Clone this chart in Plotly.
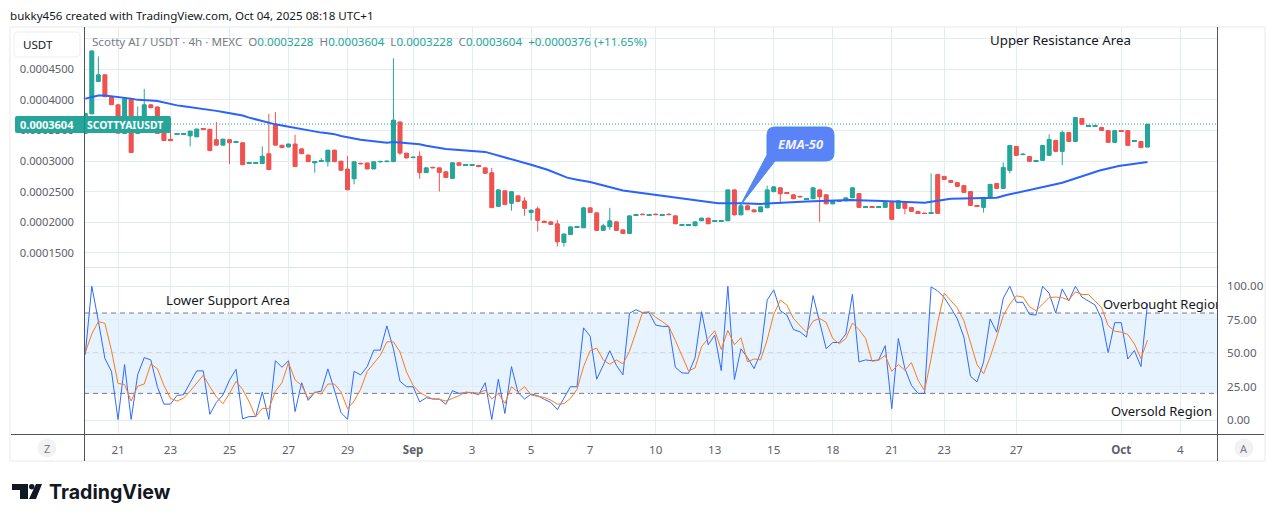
import plotly.graph_objects as go

# Candles for bars -1 .. 161, prices in units of 0.0001 USDT
bar_open = [
 3.45,3.77,4.30,4.41,4.05,3.92,3.45,4.02,3.45,3.73,3.92,3.885,3.60,3.35,3.435,3.435,3.41,3.395,3.525,3.52,
 3.35,3.26,3.35,3.305,3.30,2.965,2.965,2.96,3.12,3.60,3.26,3.23,3.28,3.20,3.10,2.97,2.995,2.99,3.18,3.00,
 2.87,2.71,2.965,2.97,2.87,2.985,2.99,2.99,3.64,3.13,3.055,3.08,2.81,2.90,2.89,2.826,2.717,2.973,2.93,2.93,
 2.92,2.89,2.81,2.26,2.515,2.31,2.433,2.35,2.16,2.22,2.02,2.008,1.975,1.67,1.80,1.92,1.91,2.237,2.155,1.867,
 1.926,2.008,1.877,1.817,2.115,2.135,2.112,2.135,2.112,2.135,2.106,1.949,1.949,1.943,2.024,2.07,2.015,2.015,2.024,2.53,
 2.12,2.27,2.204,2.17,2.237,2.50,2.564,2.482,2.45,2.425,2.375,2.384,2.53,2.45,2.30,2.345,2.35,2.40,2.47,2.249,
 2.259,2.249,2.243,2.325,2.227,2.325,2.243,2.178,2.151,2.145,2.782,2.75,2.684,2.65,2.60,2.504,2.276,2.243,2.406,2.635,
 2.553,2.847,3.24,3.105,3.076,2.995,3.01,3.093,3.338,3.158,3.468,3.32,3.697,3.572,3.572,3.55,3.50,3.305,3.50,3.50,
 3.325,3.32,3.228,
]
bar_close = [
 3.78,4.80,4.41,4.05,3.92,3.455,4.02,3.14,3.62,3.92,3.87,3.45,3.335,3.335,3.445,3.445,3.49,3.525,3.515,3.17,
 3.26,3.36,3.30,3.315,2.94,2.975,2.975,3.08,2.86,3.26,3.22,3.28,2.91,3.12,2.99,2.99,3.005,3.18,2.99,2.85,
 2.53,2.99,2.955,2.87,2.99,2.995,3.00,3.67,3.13,3.05,3.065,2.81,2.89,2.89,2.815,2.733,2.973,2.93,2.94,2.94,
 2.91,2.80,2.24,2.53,2.29,2.50,2.34,2.226,2.20,2.03,2.00,1.965,1.68,1.81,1.926,1.932,2.237,2.16,1.867,1.943,
 2.024,1.867,1.817,2.106,2.125,2.125,2.122,2.125,2.122,2.125,1.975,1.959,1.959,2.008,2.07,1.975,2.025,2.025,2.53,2.12,
 2.27,2.204,2.17,2.253,2.53,2.58,2.466,2.472,2.384,2.415,2.385,2.564,2.417,2.30,2.35,2.355,2.40,2.564,2.243,2.259,
 2.249,2.259,2.325,2.047,2.352,2.227,2.178,2.151,2.145,2.155,2.145,2.70,2.65,2.586,2.488,2.276,2.26,2.406,2.62,2.553,
 2.897,3.256,3.093,3.115,2.995,3.005,3.256,3.354,3.158,3.468,3.32,3.713,3.60,3.582,3.582,3.50,3.305,3.50,3.49,3.256,
 3.335,3.22,3.604,
]
# Wick extremes that reach beyond the body, keyed by bar number
wick_high = {
 1:4.71,7:3.89,8:4.18,12:3.66,19:3.64,26:3.24,27:3.77,28:3.80,31:3.43,35:3.05,39:3.08,46:4.68,50:3.16,
 61:2.89,66:2.41,68:2.26,71:2.04,75:2.253,78:1.975,79:2.237,103:2.597,128:2.80,139:2.978,146:3.436,148:3.50,
}
wick_low = {
 15:3.24,21:2.95,34:2.81,36:2.91,40:2.62,47:3.10,50:2.71,53:2.504,64:2.19,66:2.106,67:2.03,68:1.85,
 71:1.605,72:1.605,79:1.877,105:2.30,111:2.008,124:2.13,136:2.16,140:2.80,148:2.93,
}
last_price = 3.604

# 50-period EMA knots: bar number and value
ema_bar = [
 -1,0,1,2,3,4,5,6,7,8,9,10,11,12,13,14,15,16,17,18,19,20,21,22,23,24,25,26,27,28,29,30,31,32,33,34,35,36,37,38,39,40,
 41,42,43,44,45,46,47,48,49,50,51,54,60,63,67,69.5,72.5,74,76,81,86,91,95.5,99,102,109,115.6,120.6,127,131,135,138,139.5,144,148,153.7,156.6,161,
]
ema_value = [
 4.02,4.04,4.07,4.07,4.06,4.05,4.04,4.02,4.00,4.00,3.99,3.98,3.955,3.93,3.91,3.895,3.88,3.87,3.86,3.835,3.82,3.80,3.78,3.765,3.745,3.71,3.68,3.65,3.62,3.60,3.58,3.56,3.535,3.52,3.50,3.48,3.465,3.455,3.44,3.41,3.385,3.37,
 3.35,3.34,3.325,3.31,3.30,3.31,3.30,3.29,3.285,3.275,3.25,3.196,3.15,3.065,2.94,2.858,2.73,2.695,2.657,2.52,2.45,2.373,2.31,2.31,2.30,2.34,2.363,2.346,2.32,2.385,2.39,2.40,2.445,2.548,2.646,2.847,2.92,2.984,
]

# Stochastic RSI for bars -1 .. 161
stoch_k = [
 49,100,74,46,36.5,0.5,41.5,0.5,34,46.7,45,25,12,12,18.5,19,28,36.8,36.8,4.4,
 13.3,18.8,30,38,1,2.7,2.7,21,0.5,44.4,39.5,44.4,6.4,28,14.8,20.7,21.7,38.3,22.5,5.7,
 0.7,36.5,33.8,40,52.3,52.3,70.4,53.3,29,25,25,13.6,16.8,15.8,15.8,11.9,22,20,20.5,20.5,
 19,28,0.5,30.6,5,40,20.7,15.8,19.5,18.3,15.6,13.3,7.9,16.8,25,25,68.9,62.7,30.6,41,
 51.9,41,33.8,79.8,82.5,80.2,80.2,71,70,70,39.5,35.3,35,46.7,81,56.3,63.5,37,100,30.4,
 53.3,46.7,38.5,50.4,89.6,97.3,81.7,78.5,67.7,66,62,93,73,53.3,58,58,64.4,94,43.5,45,
 44.4,45,55.6,8.6,61,38.5,26,20,20,99.5,96.5,91.6,84,75.6,62,32.8,28.6,43.5,75.6,65.7,
 91,100,88,88,79,78.5,100,94.8,80,98,89,100,91.9,89,86,75.6,50.4,72.8,72.8,45.7,
 52,40,87,
]
stoch_d = [
 50.4,64.4,73.6,72.3,52,27.4,26.7,14.3,25.4,27,42,38.5,26,16.3,14.3,16.5,21.7,28,33.6,25,
 17.5,12.3,20,29,23,13.8,2.5,8.9,8.4,21.7,28,43,30,26,16.3,21,19.5,27,27,21.2,
 8.6,14.3,23.2,36.5,42.2,48.4,58.5,58.5,51,36,26,20.7,18,15.8,15.6,14.3,16.3,18.3,21,20.7,
 20.2,22.5,15.8,20,12.6,25,21,25,18.8,17.8,17,15,12,12.3,16.3,23,40,51.9,53.8,45,
 41.7,45,42,51.4,65.7,80.5,81,76.8,73.6,70,59.5,48,36.8,39,55,61,66.7,52.8,67,56.3,
 61.5,43.5,45.7,45,60,79,89.6,86,76,70.6,65.7,74,76,73,61,57,61,72.6,67.7,61.2,
 44,44.7,48.4,36.5,41.5,37.3,43,30,22,46,73,94.8,89.6,83.7,74.3,57,41.5,34.6,47,62,
 78,86.7,92.8,92,84.7,81.7,87,91.6,91.9,91.4,89.6,95.8,93.8,93.8,89,84,70.6,66.4,65.7,64,
 57,46,59.8,
]

# Axis ticks
date_ticks = [4,12,21,30,39,49,58,67,76,86,95,104,113,122,130,141,157,166]
date_labels = ["21","23","25","27","29","<b>Sep</b>","3","5","7","10","13","15","18","21","23","27","<b>Oct</b>","4"]
price_ticks = [1.5,2.0,2.5,3.0,3.5,4.0,4.5,5.0]
price_labels = ["0.0001500","0.0002000","0.0002500","0.0003000","0.0003500","0.0004000","0.0004500",""]
stoch_ticks = [0,25,50,75,100]
stoch_labels = ["0.00","25.00","50.00","75.00","100.00"]

TEAL = "#26a69a"
RED = "#ef5350"
GRID = "#e3ecf3"
AXIS = "#50535e"
LABEL = "#5d606b"
FONT = "Noto Sans"
W, H = 1281, 522

SCALE = 1e-4
bars = list(range(-1, 162))
opens = [v * SCALE for v in bar_open]
closes = [v * SCALE for v in bar_close]
highs = [max(wick_high.get(b, 0), o, c) * SCALE for b, o, c in zip(bars, bar_open, bar_close)]
lows = [min(wick_low.get(b, 99), o, c) * SCALE for b, o, c in zip(bars, bar_open, bar_close)]
body_base = [min(o, c) for o, c in zip(opens, closes)]
body_size = [abs(c - o) for o, c in zip(opens, closes)]
body_color = [TEAL if c >= o else RED for o, c in zip(opens, closes)]


def fx(px):
    return px / W


def fy(py):
    return 1 - py / H


def rect(x0, y0, x1, y1, fill, line=None, layer="below"):
    return dict(type="rect", xref="paper", yref="paper", x0=fx(x0), x1=fx(x1), y0=fy(y0), y1=fy(y1),
                fillcolor=fill, line=dict(color=line or fill, width=1 if line else 0), layer=layer)


def seg(x0, y0, x1, y1, color, width=1, layer="above"):
    return dict(type="line", xref="paper", yref="paper", x0=fx(x0), x1=fx(x1), y0=fy(y0), y1=fy(y1),
                line=dict(color=color, width=width), layer=layer)


def path(points, fill, line=None, layer="above"):
    return dict(type="path", xref="paper", yref="paper", path=points, fillcolor=fill,
                line=dict(color=line or fill, width=1 if line else 0), layer=layer)


def p(px, py):
    return f"{fx(px):.5f},{fy(py):.5f}"


def text(px, py, s, size=12, color="#131722", anchor="left", family=FONT):
    # Annotations carry about 2px of padding on the anchored side
    shift = 2 if anchor == "left" else 0
    return dict(xref="paper", yref="paper", x=fx(px - shift), y=fy(py), text=s, showarrow=False,
                xanchor=anchor, yanchor="middle", font=dict(family=family, size=size, color=color))


fig = go.Figure()
# Candle bodies are drawn as bars so they can span most of the bar spacing
fig.add_trace(go.Bar(
    x=bars, y=body_size, base=body_base, width=0.76, xaxis="x", yaxis="y",
    marker=dict(color=body_color, line=dict(width=0)), hoverinfo="skip", showlegend=False,
))
fig.add_trace(go.Candlestick(
    x=bars, open=opens, high=highs, low=lows, close=closes, xaxis="x", yaxis="y",
    increasing=dict(line=dict(color=TEAL, width=1), fillcolor=TEAL),
    decreasing=dict(line=dict(color=RED, width=1), fillcolor=RED),
    whiskerwidth=0, hoverinfo="skip", showlegend=False,
))
fig.add_trace(go.Scatter(
    x=ema_bar, y=[v * SCALE for v in ema_value], mode="lines", xaxis="x", yaxis="y",
    line=dict(color="#2962ff", width=2), hoverinfo="skip", showlegend=False,
))
fig.add_trace(go.Scatter(
    x=bars, y=stoch_k, mode="lines", xaxis="x2", yaxis="y2",
    line=dict(color="#2f6bff", width=1), hoverinfo="skip", showlegend=False,
))
fig.add_trace(go.Scatter(
    x=bars, y=stoch_d, mode="lines", xaxis="x2", yaxis="y2",
    line=dict(color="#ff7a1a", width=1), hoverinfo="skip", showlegend=False,
))
# Text that stops at the right-hand scale
fig.add_trace(go.Scatter(
    x=[154.2], y=[85.2], mode="text", text=["Overbought Region"], textposition="middle right",
    textfont=dict(family=FONT, size=13, color="#131722"), xaxis="x2", yaxis="y2",
    cliponaxis=True, hoverinfo="skip", showlegend=False,
))

shapes = [
    rect(9, 26, 1266, 462, "#f4f4f4"),
    rect(11, 28, 1264, 460, "#ffffff"),
    dict(type="rect", xref="x2 domain", yref="y2", x0=0, x1=1, y0=20, y1=80,
         fillcolor="rgba(33,150,243,0.11)", line=dict(width=0), layer="below"),
    dict(type="line", xref="x2 domain", yref="y2", x0=0, x1=1, y0=80, y1=80,
         line=dict(color="#787b86", width=1, dash="5px,4px"), layer="below"),
    dict(type="line", xref="x2 domain", yref="y2", x0=0, x1=1, y0=50, y1=50,
         line=dict(color="rgba(120,123,134,0.65)", width=1, dash="5px,4px"), layer="below"),
    dict(type="line", xref="x2 domain", yref="y2", x0=0, x1=1, y0=20, y1=20,
         line=dict(color="#787b86", width=1, dash="5px,4px"), layer="below"),
    dict(type="line", xref="x domain", yref="y", x0=0, x1=1, y0=last_price * SCALE, y1=last_price * SCALE,
         line=dict(color=TEAL, width=1, dash="1px,2px"), layer="below"),
    seg(84, 267.5, 1217, 267.5, "#e0e3eb"),
    seg(11, 434.5, 1264, 434.5, AXIS),
    seg(84.5, 27, 84.5, 461, AXIS),
    seg(1217.5, 27, 1217.5, 461, AXIS),
    # Scale mode box
    dict(type="path", xref="paper", yref="paper",
         path=f"M {p(18,32)} L {p(76,32)} Q {p(80,32)} {p(80,36)} L {p(80,53)} Q {p(80,57)} {p(76,57)} "
              f"L {p(18,57)} Q {p(14,57)} {p(14,53)} L {p(14,36)} Q {p(14,32)} {p(18,32)} Z",
         fillcolor="#ffffff", line=dict(color="#ecedf0", width=1), layer="above"),
    # Last-price tag
    path(f"M {p(17,116)} L {p(169,116)} Q {p(171,116)} {p(171,118)} L {p(171,131)} Q {p(171,133)} {p(169,133)} "
         f"L {p(17,133)} Q {p(15,133)} {p(15,131)} L {p(15,118)} Q {p(15,116)} {p(17,116)} Z", TEAL),
    seg(84.5, 116, 84.5, 133, "#1d8a80"),
    # EMA-50 callout
    path(f"M {p(775,127)} L {p(826,127)} Q {p(834,127)} {p(834,135)} L {p(834,153)} Q {p(834,161)} {p(826,161)} "
         f"L {p(775,161)} L {p(740,206)} L {p(767,155)} L {p(767,135)} Q {p(767,127)} {p(775,127)} Z",
         "#5a83f7", "#4390dc"),
    # Scale buttons
    dict(type="circle", xref="paper", yref="paper", x0=fx(37.5), x1=fx(56.5), y0=fy(438.5), y1=fy(457.5),
         fillcolor="#f2f2f2", line=dict(width=0), layer="above"),
    dict(type="circle", xref="paper", yref="paper", x0=fx(1234.5), x1=fx(1253.5), y0=fy(438.5), y1=fy(457.5),
         fillcolor="#f2f2f2", line=dict(width=0), layer="above"),
    # Brand mark
    path(f"M {p(12,484)} L {p(28,484)} L {p(28,499)} L {p(20,499)} L {p(20,490)} L {p(12,490)} Z", "#131722", layer="below"),
    dict(type="circle", xref="paper", yref="paper", x0=fx(29), x1=fx(34.5), y0=fy(484), y1=fy(489.5),
         fillcolor="#131722", line=dict(width=0), layer="below"),
    path(f"M {p(36,484)} L {p(42,484)} L {p(36,499)} L {p(29,499)} Z", "#131722", layer="below"),
]

legend_text = ("<span style='color:#787b86'>Scotty AI / USDT · 4h · MEXC  O</span><span style='color:#26a69a'>0.0003228</span>"
               "<span style='color:#787b86'>  H</span><span style='color:#26a69a'>0.0003604</span>"
               "<span style='color:#787b86'>  L</span><span style='color:#26a69a'>0.0003228</span>"
               "<span style='color:#787b86'>  C</span><span style='color:#26a69a'>0.0003604  +0.0000376 (+11.65%)</span>")

annotations = [
    text(10, 15, "bukky456 created with TradingView.com, Oct 04, 2025 08:18 UTC+1", size=11.6),
    text(92, 41, legend_text, size=11.6),
    text(23, 44.5, "USDT", size=11.6),
    text(20, 124.5, "<b>0.0003604</b>", size=11, color="#ffffff"),
    text(87, 124.5, "<b>SCOTTYAIUSDT</b>", size=10.4, color="#ffffff"),
    text(990, 40.5, "Upper Resistance Area", size=13.3),
    text(166, 299.5, "Lower Support Area", size=13.3),
    text(1111, 411, "Oversold Region", size=13),
    text(800.5, 143.5, "<b><i>EMA-50</i></b>", size=13, color="#eef3ff", anchor="center"),
    text(47, 448.5, "Z", size=11, color="#787b86", anchor="center"),
    text(1244, 448.5, "A", size=11, color="#787b86", anchor="center"),
    text(49, 492, "<b>TradingView</b>", size=19.6, family="Inter"),
]

x_range = [-1.19, 171.6]
fig.update_layout(
    width=W, height=H, margin=dict(l=0, r=0, t=0, b=0), autosize=False,
    paper_bgcolor="#ffffff", plot_bgcolor="rgba(0,0,0,0)", showlegend=False,
    shapes=shapes, annotations=annotations, hovermode=False, barmode="overlay",
    xaxis=dict(domain=[fx(84), fx(1217)], range=x_range, type="linear", anchor="y",
               tickmode="array", tickvals=date_ticks, ticktext=[""] * len(date_ticks),
               showgrid=True, gridcolor=GRID, gridwidth=1, zeroline=False, showline=False,
               ticks="", rangeslider=dict(visible=False)),
    xaxis2=dict(domain=[fx(84), fx(1217)], range=x_range, type="linear", anchor="y2",
                tickmode="array", tickvals=date_ticks, ticktext=date_labels,
                tickfont=dict(family=FONT, size=11.6, color=LABEL), ticklabelstandoff=7,
                showgrid=True, gridcolor=GRID, gridwidth=1, zeroline=False, showline=False, ticks=""),
    yaxis=dict(domain=[fy(267), fy(27)], range=[0.000127, 0.000519], anchor="x", side="left",
               tickmode="array", tickvals=[v * SCALE for v in price_ticks], ticktext=price_labels,
               tickfont=dict(family=FONT, size=11.2, color=LABEL), ticklabelstandoff=9,
               showgrid=True, gridcolor=GRID, gridwidth=1, zeroline=False, showline=False, ticks=""),
    yaxis2=dict(domain=[fy(434), fy(268)], range=[-10.3, 113.6], anchor="x2", side="right",
                tickmode="array", tickvals=stoch_ticks, ticktext=stoch_labels,
                tickfont=dict(family=FONT, size=11.6, color=LABEL), ticklabelstandoff=9,
                showgrid=True, gridcolor=GRID, gridwidth=1, zeroline=False, showline=False, ticks=""),
)

fig.write_html("out.html")
